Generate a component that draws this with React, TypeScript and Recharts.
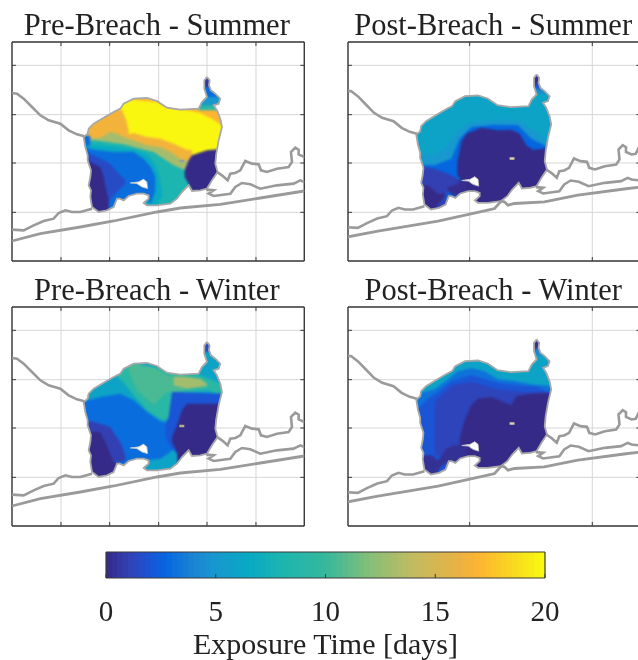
import React from 'react';
import { ComposedChart, Area, Line, XAxis, YAxis, CartesianGrid } from 'recharts';

type Row = [number, number, number];
type Layer = { v: number; s: Row[] };
type Pt = [number, number];

const cmapValues = [0, 1, 2, 2.7, 4, 5, 6.5, 8, 10, 12, 14, 16, 17, 18.5, 20];
const cmapColors = ['#352a87', '#3340b4', '#1a55d5', '#0566e0', '#1c85d2', '#1798ce', '#08a9c4', '#1cb5b0', '#35b89c', '#85bf78', '#c2bb60', '#e8b245', '#feb431', '#f8d820', '#f9fb0e'];
const barTicks = [0, 5, 10, 15, 20];
const barLevels = [0,0.25,0.5,0.75,1,1.25,1.5,1.75,2,2.25,2.5,2.75,3,3.25,3.5,3.75,4,4.25,4.5,4.75,5,5.25,5.5,5.75,6,6.25,6.5,6.75,7,7.25,7.5,7.75,8,8.25,8.5,8.75,9,9.25,9.5,9.75,10,10.25,10.5,10.75,11,11.25,11.5,11.75,12,12.25,12.5,12.75,13,13.25,13.5,13.75,14,14.25,14.5,14.75,15,15.25,15.5,15.75,16,16.25,16.5,16.75,17,17.25,17.5,17.75,18,18.25,18.5,18.75,19,19.25,19.5,19.75];

const outline: Pt[] = [[620,140],[628,150],[626,165],[632,180],[645,190],[660,205],[655,220],[640,225],[650,240],[660,265],[665,290],[655,330],[648,370],[645,400],[652,425],[635,450],[620,475],[600,480],[575,482],[565,465],[545,485],[530,505],[510,520],[470,525],[440,525],[430,518],[445,505],[445,495],[430,490],[410,490],[385,497],[370,510],[358,505],[350,505],[340,530],[320,540],[295,545],[275,530],[270,500],[272,480],[265,465],[270,440],[272,420],[262,390],[262,375],[255,350],[250,320],[262,310],[265,295],[280,280],[310,262],[340,245],[360,235],[370,220],[400,205],[440,203],[470,212],[500,232],[540,238],[595,235],[605,215],[620,200],[612,175],[612,150],[620,140]];
const lagoon: Pt[] = [[390,458],[415,455],[430,447],[440,455],[442,475],[425,470],[410,460],[390,458]];
const island: Pt[] = [[537,392],[552,392]];
const mainland: Pt[] = [[35,188],[50,190],[70,205],[95,230],[120,255],[145,270],[180,280],[205,300],[230,312],[252,318]];
const backBarrier: Pt[] = [[650,425],[665,435],[682,450],[690,430],[705,428],[720,420],[735,392],[755,400],[775,402],[782,420],[800,425],[830,415],[865,410],[875,395],[872,365],[885,352],[895,358],[895,372],[912,380],[925,378],[935,358]];
const innerBarrier: Pt[] = [[618,478],[640,480],[625,490],[640,497],[690,490],[705,470],[725,458],[750,462],[780,475],[830,465],[880,460],[900,450],[912,455],[940,458]];
const westBarrier: Pt[] = [[35,598],[70,600],[100,585],[130,572],[160,565],[175,548],[195,540],[215,545],[240,545],[275,535]];
const outerPre: Pt[] = [[35,632],[120,610],[240,590],[340,572],[470,545],[540,533],[660,522],[780,503],[912,482],[940,478]];
const outerPost: Pt[] = [[35,628],[132,610],[317,580],[470,547],[491,542],[511,520],[521,522],[532,532],[552,527],[644,522],[747,502],[901,482],[940,478]];

const preSummer: Layer[] = [
  { v: 19.8, s: [[200,0,700],[700,0,700]] },
  { v: 17, s: [[380,0,205],[430,0,212],[470,0,215],[500,0,232],[560,0,240],[600,0,248],[640,0,268],[670,0,290]] },
  { v: 16.5, s: [[245,200,340],[300,200,340],[350,230,340],[365,240,340],[378,270,320],[385,300,310]] },
  { v: 16.5, s: [[370,315,700],[400,308,700],[440,320,700],[480,325,700],[520,340,700],[560,358,700],[575,360,700]] },
  { v: 13, s: [[245,325,700],[300,322,700],[330,305,700],[350,310,700],[370,320,700],[400,330,700],[440,345,700],[480,350,700],[510,365,700],[540,385,700],[570,395,700]] },
  { v: 8, s: [[245,335,700],[280,330,700],[320,335,700],[370,342,700],[420,355,700],[460,365,700],[490,385,700],[520,405,700],[555,420,700],[575,430,700]] },
  { v: 6.5, s: [[245,345,700],[290,345,700],[340,350,700],[400,358,700],[440,372,700],[460,395,700],[475,430,510],[485,480,500]] },
  { v: 3, s: [[245,350,700],[290,360,700],[340,365,700],[400,365,700],[430,385,495],[452,410,520],[465,440,480]] },
  { v: 1.5, s: [[245,360,700],[290,380,700],[330,400,505],[350,425,485],[375,450,460]] },
  { v: 0, s: [[245,380,700],[280,400,700],[300,410,700],[310,440,700],[320,490,540],[325,510,535]] },
  { v: 3, s: [[245,310,350],[270,318,345]] },
  { v: 0, s: [[553,420,440],[565,390,460],[575,375,480],[620,360,700],[670,355,700]] },
  { v: 9, s: [[595,0,240],[670,0,240]] },
  { v: 5, s: [[595,0,225],[670,0,225]] },
  { v: 3, s: [[595,0,200],[670,0,200]] },
  { v: 0.5, s: [[595,0,170],[670,0,170]] },
];

const preWinter: Layer[] = [
  { v: 6, s: [[200,0,700],[700,0,700]] },
  { v: 3, s: [[245,320,700],[300,305,700],[360,295,700],[400,315,510],[440,350,495],[480,378,490],[510,385,470],[530,400,450]] },
  { v: 9, s: [[345,0,240],[370,0,262],[400,0,300],[440,0,345],[480,0,372],[500,0,375],[520,0,340],[530,0,300],[570,0,290],[620,0,285],[670,0,300]] },
  { v: 10.5, s: [[385,205,230],[410,205,285],[460,215,330],[500,240,290],[530,240,290],[560,240,280]] },
  { v: 13, s: [[520,245,270],[560,245,280],[600,250,275],[620,265,272]] },
  { v: 6, s: [[420,0,208],[480,0,218]] },
  { v: 6, s: [[595,0,240],[640,0,255],[670,0,270]] },
  { v: 1.5, s: [[595,0,170],[670,0,170]] },
  { v: 2, s: [[495,385,420],[505,365,445],[515,290,460],[530,290,475],[670,295,700]] },
  { v: 0, s: [[515,425,440],[530,390,470],[545,345,700],[560,325,700],[670,325,700]] },
  { v: 1, s: [[245,340,700],[262,375,700],[300,385,700],[330,395,520],[345,420,500],[360,440,500],[375,480,495]] },
  { v: 0, s: [[265,410,700],[300,410,700],[315,440,700],[340,500,700],[360,510,520]] },
];

const postSummer: Layer[] = [
  { v: 6, s: [[200,0,700],[700,0,700]] },
  { v: 5, s: [[235,370,700],[290,375,700],[330,345,700],[360,300,700],[400,275,700],[470,268,700],[540,270,700],[590,300,700],[640,345,700]] },
  { v: 2.7, s: [[235,405,700],[290,405,700],[340,385,700],[365,325,700],[400,290,700],[470,283,700],[540,285,700],[580,325,700],[640,355,700]] },
  { v: 0, s: [[358,395,435],[370,335,450],[385,310,700],[430,292,700],[480,300,700],[520,298,700],[545,310,700],[565,345,700],[585,358,700],[640,352,700]] },
  { v: 0.2, s: [[325,465,480],[345,450,495],[385,450,500]] },
  { v: 1, s: [[235,405,700],[290,415,700],[330,430,470],[360,445,460]] },
  { v: 0, s: [[235,470,700],[270,465,700],[300,490,520],[320,490,500]] },
  { v: 4.5, s: [[570,0,190],[640,0,190]] },
  { v: 2, s: [[570,0,175],[640,0,175]] },
  { v: 0.2, s: [[570,0,160],[640,0,160]] },
];

const postWinter: Layer[] = [
  { v: 6, s: [[200,0,700],[700,0,700]] },
  { v: 3.2, s: [[235,315,700],[250,292,700],[290,282,700],[330,252,700],[360,228,700],[400,218,700],[440,228,700],[480,252,700],[530,257,700],[580,267,700],[640,272,700]] },
  { v: 2, s: [[235,345,700],[270,310,700],[300,290,700],[340,258,700],[400,240,700],[480,262,700],[540,270,700],[600,275,700],[640,295,700]] },
  { v: 1.2, s: [[290,320,480],[320,290,480],[345,270,700],[400,260,700],[480,282,700],[560,290,700],[640,290,700]] },
  { v: 0, s: [[365,430,445],[380,375,700],[400,330,700],[420,310,700],[460,305,700],[520,330,700],[535,302,700],[580,295,700],[640,292,700]] },
  { v: 0.3, s: [[245,480,700],[280,480,700],[300,495,525],[325,460,500],[345,450,500],[385,450,490]] },
  { v: 4, s: [[570,0,180],[640,0,180]] },
  { v: 0.3, s: [[570,0,160],[640,0,160]] },
];

const leftXTicks = [182, 328, 475, 620, 767];
const rightXTicks = [395, 763];
const yTicks = [105, 253, 398, 546];

const W = 292.3, H = 219;
const leftView = { x: [35, 912], y: [35, 692] };
const rightView = { x: [30, 907], y: [35, 692] };
const leftGeo = { x: [35, 912], y: [35, 692] };
const rightGeo = { x: [40, 939], y: [42.5, 699.5] };

const hexToRgb = (h: string) => [1, 3, 5].map((i) => parseInt(h.slice(i, i + 2), 16));
const colorOf = (v: number) => {
  let i = 0;
  while (i < cmapValues.length - 2 && v > cmapValues[i + 1]) i++;
  const t = Math.min(1, Math.max(0, (v - cmapValues[i]) / (cmapValues[i + 1] - cmapValues[i])));
  const a = hexToRgb(cmapColors[i]), b = hexToRgb(cmapColors[i + 1]);
  return `rgb(${a.map((c, k) => Math.round(c + (b[k] - c) * t)).join(',')})`;
};
const pts = (p: Pt[]) => p.map(([x, y]) => ({ x, y }));
const inkFont = '"Liberation Serif", "Times New Roman", serif';
const layerBox: React.CSSProperties = { position: 'absolute', left: 0, top: 0 };
const noLabel = () => '';
const noTick = { fontSize: 0 };

function MapPanel({ left, top, title, layers, post, islandColor }: { left: number; top: number; title: string; layers: Layer[]; post: boolean; islandColor: string }) {
  const view = post ? rightView : leftView;
  const geo = post ? rightGeo : leftGeo;
  const xTicks = post ? rightXTicks : leftXTicks;
  const px = (x: number) => 1 + ((x - geo.x[0]) / (geo.x[1] - geo.x[0])) * W;
  const py = (y: number) => 1 + ((y - geo.y[0]) / (geo.y[1] - geo.y[0])) * H;
  const toPath = (p: Pt[]) => 'M' + p.map(([x, y]) => `${px(x).toFixed(1)} ${py(y).toFixed(1)}`).join('L') + 'Z';
  const coast = [mainland, backBarrier, innerBarrier, westBarrier];
  const axisLine = { stroke: '#3a3a3a', strokeWidth: 1.4 };
  const tickLine = { stroke: '#3a3a3a', strokeWidth: 1 };
  const size = { width: W + 2, height: H + 2, margin: { top: 1, right: 1, bottom: 1, left: 1 }, data: [] as any[] };
  const corners = [{ x: view.x[0], y: view.y[0] }, { x: view.x[1], y: view.y[1] }];
  const tickProps = { mirror: true, tick: noTick, tickFormatter: noLabel, tickSize: 4, axisLine, tickLine, allowDataOverflow: true, interval: 0 as const };
  return (
    <div style={{ position: 'absolute', left: left - 1, top: top - 1, width: W + 2, height: H + 2 }}>
      <div style={{ position: 'absolute', left: -30, width: W + 60, top: -34, textAlign: 'center', fontFamily: inkFont, fontSize: 30.5, lineHeight: '36px', color: '#222', whiteSpace: 'nowrap' }}>{title}</div>
      <div style={layerBox}>
        <ComposedChart {...size}>
          <XAxis xAxisId="view" dataKey="x" type="number" domain={view.x} ticks={xTicks} height={1} {...tickProps} />
          <XAxis xAxisId="top" orientation="top" dataKey="x" type="number" domain={view.x} ticks={xTicks} height={1} {...tickProps} />
          <YAxis yAxisId="view" dataKey="y" type="number" domain={view.y} ticks={yTicks} reversed width={1} {...tickProps} />
          <YAxis yAxisId="right" orientation="right" dataKey="y" type="number" domain={view.y} ticks={yTicks} reversed width={1} {...tickProps} />
          <CartesianGrid xAxisId="view" yAxisId="view" stroke="#d6d6d6" strokeWidth={1} />
          <Line xAxisId="view" yAxisId="view" data={corners} dataKey="y" stroke="none" dot={false} activeDot={false} isAnimationActive={false} />
          <Line xAxisId="top" yAxisId="right" data={corners} dataKey="y" stroke="none" dot={false} activeDot={false} isAnimationActive={false} />
        </ComposedChart>
      </div>
      <div style={{ ...layerBox, clipPath: `path(evenodd, '${toPath(outline)} ${toPath(lagoon)}')` }}>
        <div style={{ filter: 'blur(1.3px)' }}>
          <ComposedChart {...size}>
            <XAxis xAxisId="view" dataKey="x" type="number" domain={view.x} allowDataOverflow hide />
            <YAxis yAxisId="view" dataKey="y" type="number" domain={view.y} reversed allowDataOverflow hide />
            {layers.map((l, i) => (
              <Area key={i} xAxisId="view" yAxisId="view" data={l.s.map(([x, a, b]) => ({ x, r: [a, b] }))} dataKey="r" type="linear" fill={colorOf(l.v)} fillOpacity={1} stroke="none" dot={false} activeDot={false} isAnimationActive={false} />
            ))}
          </ComposedChart>
        </div>
      </div>
      <div style={layerBox}>
        <ComposedChart {...size}>
          <XAxis xAxisId="geo" dataKey="x" type="number" domain={geo.x} allowDataOverflow hide />
          <YAxis yAxisId="geo" dataKey="y" type="number" domain={geo.y} reversed allowDataOverflow hide />
          <Line xAxisId="geo" yAxisId="geo" data={pts(island)} dataKey="y" stroke={islandColor} strokeWidth={2.5} dot={false} activeDot={false} isAnimationActive={false} />
          <Line xAxisId="geo" yAxisId="geo" data={pts(outline)} dataKey="y" stroke="#a8a8a8" strokeWidth={1.8} dot={false} activeDot={false} isAnimationActive={false} />
          <Line xAxisId="geo" yAxisId="geo" data={pts(lagoon)} dataKey="y" stroke="#c8c8c8" strokeWidth={0.8} dot={false} activeDot={false} isAnimationActive={false} />
          {coast.map((c, i) => (
            <Line key={i} xAxisId="geo" yAxisId="geo" data={pts(c)} dataKey="y" stroke="#9a9a9a" strokeWidth={2.6} dot={false} activeDot={false} isAnimationActive={false} />
          ))}
          <Line xAxisId="geo" yAxisId="geo" data={pts(post ? outerPost : outerPre)} dataKey="y" stroke="#9a9a9a" strokeWidth={2.8} dot={false} activeDot={false} isAnimationActive={false} />
        </ComposedChart>
      </div>
    </div>
  );
}

function ColorBar() {
  const axisLine = { stroke: '#3a3a3a', strokeWidth: 1.2 };
  const corners = [{ x: 0, y: 0 }, { x: 20, y: 1 }];
  return (
    <div style={layerBox}>
      <ComposedChart width={638} height={660} margin={{ top: 552, right: 93, bottom: 0, left: 106 }} data={[]}>
        <XAxis xAxisId="l" dataKey="x" type="number" domain={[0, 20]} allowDataOverflow ticks={barTicks} height={82} tickLine={false} axisLine={false} tickMargin={16} interval={0} tick={{ fontFamily: inkFont, fontSize: 29, fill: '#222' }} label={{ value: 'Exposure Time [days]', position: 'insideBottom', offset: 6, fontFamily: inkFont, fontSize: 30, fill: '#222' }} />
        <YAxis yAxisId="y" dataKey="y" type="number" domain={[0, 1]} allowDataOverflow ticks={[]} width={1} mirror tick={noTick} tickFormatter={noLabel} axisLine={axisLine} />
        <YAxis yAxisId="r" orientation="right" dataKey="y" type="number" domain={[0, 1]} allowDataOverflow ticks={[]} width={1} mirror tick={noTick} tickFormatter={noLabel} axisLine={axisLine} />
        {barLevels.map((v) => (
          <Area key={v} xAxisId="l" yAxisId="y" data={[{ x: v, r: [0, 1] }, { x: 20, r: [0, 1] }]} dataKey="r" type="linear" fill={colorOf(v + 0.125)} fillOpacity={1} stroke="none" dot={false} activeDot={false} isAnimationActive={false} />
        ))}
        <XAxis xAxisId="t" dataKey="x" type="number" domain={[0, 20]} allowDataOverflow ticks={barTicks} interval={0} height={1} mirror tick={noTick} tickFormatter={noLabel} tickSize={4} axisLine={axisLine} tickLine={{ stroke: '#3a3a3a' }} />
        <XAxis xAxisId="a" orientation="top" dataKey="x" type="number" domain={[0, 20]} allowDataOverflow ticks={[]} height={1} mirror tick={noTick} tickFormatter={noLabel} axisLine={axisLine} />
        <Line xAxisId="t" yAxisId="r" data={corners} dataKey="y" stroke="none" dot={false} activeDot={false} isAnimationActive={false} />
        <Line xAxisId="a" yAxisId="r" data={corners} dataKey="y" stroke="none" dot={false} activeDot={false} isAnimationActive={false} />
      </ComposedChart>
    </div>
  );
}

export default function App() {
  return (
    <div style={{ position: 'absolute', left: 0, top: 0, width: 638, height: 660, overflow: 'hidden', background: '#fff', filter: 'blur(0.55px)' }}>
      <ColorBar />
      <MapPanel left={11.7} top={41.7} title="Pre-Breach - Summer" layers={preSummer} post={false} islandColor="#9aa0a0" />
      <MapPanel left={348} top={41.7} title="Post-Breach - Summer" layers={postSummer} post islandColor="#d8d0a8" />
      <MapPanel left={11.7} top={306.7} title="Pre-Breach - Winter" layers={preWinter} post={false} islandColor="#b0b090" />
      <MapPanel left={348} top={306.7} title="Post-Breach - Winter" layers={postWinter} post islandColor="#d8d0a8" />
    </div>
  );
}
